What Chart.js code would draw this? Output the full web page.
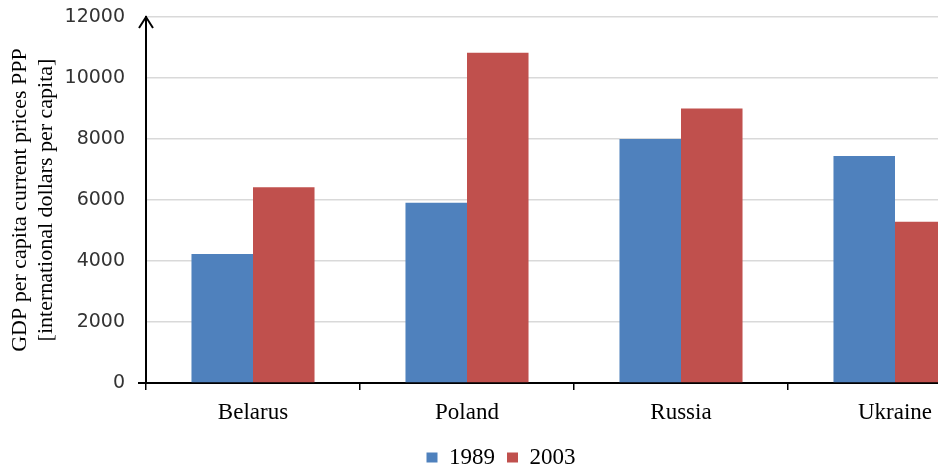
<!DOCTYPE html>
<html>
<head>
<meta charset="utf-8">
<script src="https://cdn.jsdelivr.net/npm/chart.js@4/dist/chart.umd.min.js"></script>
<style>
  html, body { margin: 0; padding: 0; background: #fff; overflow: hidden; }
  #wrap { width: 938px; height: 469px; overflow: hidden; position: relative; }
  canvas { display: block; }
</style>
</head>
<body>
<div id="wrap"><canvas id="c" width="1010" height="469"></canvas></div>
<script>
const categories = ["Belarus", "Poland", "Russia", "Ukraine"];
const series1989 = [4230, 5910, 8000, 7440];
const series2003 = [6420, 10830, 9000, 5290];
const seriesNames = ["1989", "2003"];
const yTicksMax = 12000;
const yTickStep = 2000;
const yTitle = ["GDP per capita current prices PPP", "[international dollars per capita]"];

const axisDecor = {
  id: 'axisDecor',
  afterDraw(chart) {
    const ctx = chart.ctx;
    const left = chart.chartArea.left, top = chart.chartArea.top, bottom = chart.chartArea.bottom;
    ctx.save();
    ctx.strokeStyle = '#000';
    ctx.lineWidth = 2;
    ctx.beginPath();
    ctx.moveTo(left - 7, top + 11);
    ctx.lineTo(left, top);
    ctx.lineTo(left + 7, top + 11);
    ctx.stroke();
    ctx.beginPath();
    ctx.moveTo(left - 8, bottom);
    ctx.lineTo(left, bottom);
    ctx.stroke();
    ctx.restore();
  }
};

new Chart(document.getElementById('c'), {
  type: 'bar',
  data: {
    labels: categories,
    datasets: [
      { label: seriesNames[0], data: series1989, backgroundColor: '#4f81bd', borderWidth: 0 },
      { label: seriesNames[1], data: series2003, backgroundColor: '#c0504d', borderWidth: 0 }
    ]
  },
  options: {
    responsive: false,
    animation: false,
    layout: { padding: { left: 0, top: 17, right: 8, bottom: -10 } },
    datasets: { bar: { categoryPercentage: 0.575, barPercentage: 1.0 } },
    plugins: {
      legend: {
        position: 'bottom',
        labels: {
          font: { family: 'Liberation Serif', size: 23 },
          color: '#000',
          boxWidth: 11, boxHeight: 10,
          padding: 12
        }
      },
      tooltip: { enabled: false }
    },
    scales: {
      x: {
        grid: { display: true, drawOnChartArea: false, drawTicks: true, tickLength: 7, color: '#000', lineWidth: 1.5 },
        border: { display: true, color: '#000', width: 2 },
        ticks: { font: { family: 'Liberation Serif', size: 23 }, color: '#000', padding: 9, maxRotation: 0 },
        afterFit(s) { s.height = 51; }
      },
      y: {
        min: 0, max: yTicksMax,
        ticks: {
          stepSize: yTickStep,
          font: { family: 'DejaVu Sans', size: 19 },
          color: '#333',
          padding: 21,
          callback: (v) => String(v)
        },
        grid: { color: '#d9d9d9', lineWidth: 1.5, drawTicks: false },
        border: { display: true, color: '#000', width: 2 },
        title: {
          display: true,
          text: yTitle,
          font: { family: 'Liberation Serif', size: 22, lineHeight: 1.18 },
          color: '#000',
          padding: { top: 7, bottom: 0 }
        },
        afterFit(s) { s.width = 146; s.paddingTop = 0; s.paddingBottom = 0; }
      }
    }
  },
  plugins: [axisDecor]
});
</script>
</body>
</html>
